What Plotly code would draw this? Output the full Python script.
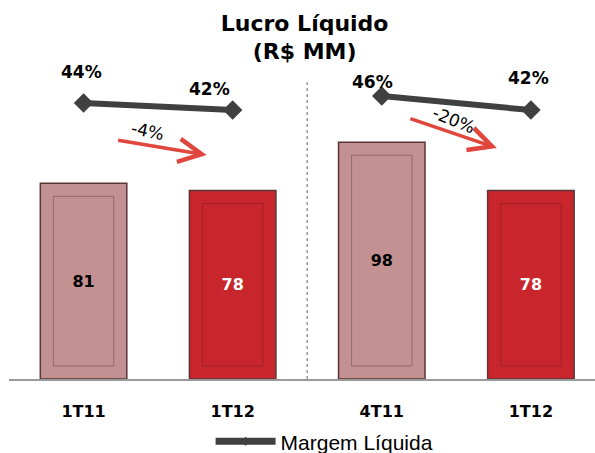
import plotly.graph_objects as go

# ---- data ----
categories = ["1T11", "1T12", "4T11", "1T12"]
lucro = [81, 78, 98, 78]
margem = [44, 42, 46, 42]
margem_labels = ["44%", "42%", "46%", "42%"]
variacoes = ["-4%", "-20%"]
title_lines = ["Lucro Líquido", "(R$ MM)"]
legend_name = "Margem Líquida"

# ---- styling ----
PINK = "#c39192"
RED = "#c8262c"
LINE_C = "#404040"
bar_colors = [PINK, RED, PINK, RED]
text_colors = ["#000000", "#ffffff", "#000000", "#ffffff"]
FONT_B = "DejaVu Sans"
xpos = list(range(len(categories)))
BAR_W = 0.58
INSET = 5.4  # data units for inner frame
INNER_W = 0.405

fig = go.Figure()

# main bars
fig.add_trace(go.Bar(
    x=xpos, y=lucro, width=BAR_W,
    marker=dict(color=bar_colors, line=dict(color="#5a3434", width=1.5)),
    text=[str(v) for v in lucro], textposition="inside", insidetextanchor="middle",
    textfont=dict(family=FONT_B, size=16, color=text_colors, weight="bold"),
    showlegend=False, hoverinfo="skip",
))
# inner frame decoration
fig.add_trace(go.Bar(
    x=xpos, y=[v - 2 * INSET for v in lucro], base=[INSET] * len(lucro), width=INNER_W,
    marker=dict(color="rgba(0,0,0,0)", line=dict(color="rgba(80,30,30,0.35)", width=1)),
    showlegend=False, hoverinfo="skip",
))

# margin line: two segments (one per comparison)
lx, ly = [], []
for i in range(0, len(margem), 2):
    lx += [xpos[i], xpos[i + 1], None]
    ly += [margem[i], margem[i + 1], None]
fig.add_trace(go.Scatter(
    x=lx, y=ly, yaxis="y2", mode="lines+markers", name=legend_name,
    line=dict(color=LINE_C, width=6),
    marker=dict(symbol="diamond", size=15, color=LINE_C),
    connectgaps=False, hoverinfo="skip", showlegend=False,
))
# legend entry (smaller marker, like the reference key)
fig.add_trace(go.Scatter(
    x=[None], y=[None], yaxis="y2", mode="lines+markers", name=legend_name,
    line=dict(color=LINE_C, width=7),
    marker=dict(symbol="diamond", size=7, color=LINE_C),
    hoverinfo="skip",
))

annotations = []
# margin labels
label_shift = [(-2, 31), (-23, 21), (-9, 14), (-2, 32)]
for i, (lab, (dx, dy)) in enumerate(zip(margem_labels, label_shift)):
    annotations.append(dict(
        x=xpos[i], y=margem[i], xref="x", yref="y2", text=lab, showarrow=False,
        xshift=dx, yshift=dy, font=dict(family=FONT_B, size=17, color="#000", weight="bold"),
    ))

# variation arrows + labels
arrow_specs = [
    dict(head=(-26, -45), tail=(-90, -15), lab=(-85, -21), ang=12),
    dict(head=(-34, -38), tail=(-88, -30), lab=(-77, -10), ang=22),
]
for k, (var, spec) in enumerate(zip(variacoes, arrow_specs)):
    j = 2 * k + 1
    annotations.append(dict(
        x=xpos[j], y=margem[j], xref="x", yref="y2", text="", showarrow=True,
        xshift=spec["head"][0], yshift=spec["head"][1],
        ax=spec["tail"][0], ay=spec["tail"][1], axref="pixel", ayref="pixel",
        arrowhead=5, arrowsize=1.3, arrowwidth=3.5, arrowcolor="#e0463c",
    ))
    annotations.append(dict(
        x=xpos[j], y=margem[j], xref="x", yref="y2", text=var, showarrow=False,
        xshift=spec["lab"][0], yshift=spec["lab"][1], textangle=spec["ang"],
        font=dict(family=FONT_B, size=17, color="#000"),
    ))

fig.update_layout(
    width=595, height=453,
    margin=dict(l=9, r=0, t=60, b=74, autoexpand=False),
    paper_bgcolor="white", plot_bgcolor="white",
    barmode="overlay",
    title=dict(
        text="<b>" + "<br>".join(title_lines) + "</b>",
        x=0.512, xanchor="center", y=0.932, yanchor="top",
        font=dict(family=FONT_B, size=22, color="#000"),
    ),
    xaxis=dict(
        range=[-0.5, 3.43], tickvals=xpos, ticktext=["<b>%s</b>" % c for c in categories],
        tickfont=dict(family=FONT_B, size=16, color="#000"),
        showline=True, linecolor="#9a9a9a", linewidth=1.5,
        ticks="outside", ticklen=17, tickcolor="rgba(0,0,0,0)",
        showgrid=False, zeroline=False,
    ),
    yaxis=dict(range=[0, 132], visible=False, showgrid=False, zeroline=False),
    yaxis2=dict(range=[-34.8, 56.3], overlaying="y", visible=False, showgrid=False, zeroline=False),
    legend=dict(
        orientation="h", x=0.344, xanchor="left", yref="container", y=0.025, yanchor="middle",
        font=dict(family="Liberation Sans", size=21, color="#000"),
        bgcolor="rgba(0,0,0,0)", itemwidth=60,
    ),
    shapes=[dict(
        type="line", xref="x", yref="paper", x0=1.5, x1=1.5, y0=0, y1=0.93,
        line=dict(color="#999999", width=1.5, dash="dot"),
    )],
    annotations=annotations,
)

fig.write_html(
    "out.html",
    config={"displayModeBar": False, "staticPlot": True},
    post_script="document.body.style.margin='0';document.body.style.overflow='hidden';",
)
